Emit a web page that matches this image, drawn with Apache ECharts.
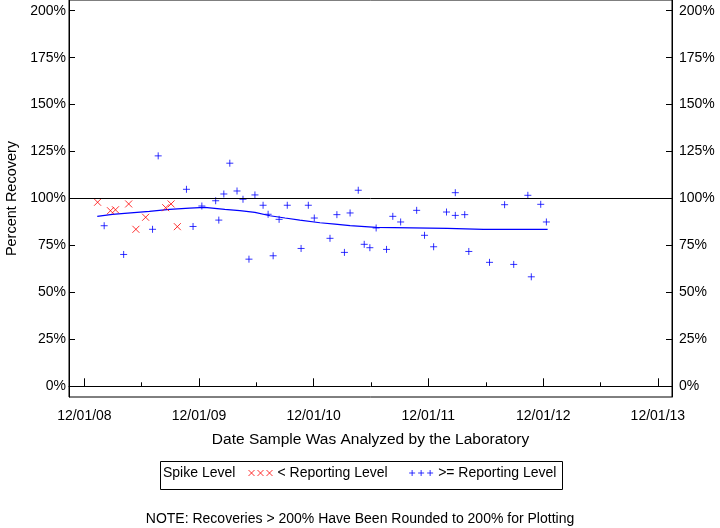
<!DOCTYPE html>
<html>
<head>
<meta charset="utf-8">
<script src="https://cdn.jsdelivr.net/npm/echarts@6/dist/echarts.min.js"></script>
<style>
  html, body { margin: 0; padding: 0; background: #fff; }
  #chart { width: 720px; height: 528px; }
</style>
</head>
<body>
<div id="chart"></div>
<script>
// ---- Data ----
const belowDates = ['2009-01-12','2009-02-22','2009-03-10','2009-04-21','2009-05-14','2009-06-14','2009-08-17','2009-09-03','2009-09-23'];
const belowValues = [98.0, 93.5, 94.0, 97.1, 83.6, 90.0, 95.1, 97.1, 85.0];

const aboveDates = ['2009-02-02','2009-04-05','2009-07-06','2009-07-24','2009-10-22','2009-11-12','2009-12-10',
  '2010-01-23','2010-02-02','2010-02-18','2010-03-09','2010-04-01','2010-04-20','2010-05-09','2010-05-28',
  '2010-06-23','2010-07-09','2010-07-25','2010-08-13','2010-09-08','2010-10-22','2010-11-14','2010-12-03',
  '2011-01-22','2011-02-13','2011-03-09','2011-03-27','2011-04-22','2011-05-11','2011-05-29','2011-06-18',
  '2011-07-21','2011-08-10','2011-09-04','2011-10-25','2011-11-19','2011-12-18','2012-01-28','2012-02-25',
  '2012-02-25','2012-03-26','2012-04-08','2012-06-13','2012-07-31','2012-08-29','2012-10-13','2012-10-24',
  '2012-11-23','2012-12-11'];
const aboveValues = [85.5, 70.2, 83.6, 122.7, 104.9, 85.1, 96.0,
  98.8, 88.5, 102.4, 118.8, 104.0, 99.6, 67.7, 101.9,
  96.4, 91.6, 69.5, 88.9, 96.4, 73.4, 96.4, 89.6,
  78.8, 91.4, 71.3, 92.3, 104.4, 75.6, 73.8, 84.3,
  72.9, 90.5, 87.5, 93.7, 80.4, 74.3, 92.8, 103.1,
  91.0, 91.4, 71.8, 66.0, 96.7, 64.9, 101.7, 58.3,
  96.9, 87.5];

const trendDates = ['2009-01-11','2009-02-28','2009-04-08','2009-06-26','2009-08-29','2009-11-01','2009-12-19',
  '2010-02-21','2010-04-10','2010-05-28','2010-07-15','2010-09-01','2010-10-18','2010-12-21','2011-02-07',
  '2011-03-27','2011-06-18','2012-01-31','2012-05-25','2012-12-15'];
const trendValues = [90.5, 91.5, 92.1, 93.1, 94.2, 94.9, 95.3,
  94.2, 93.5, 92.6, 90.8, 89.6, 88.5, 87.1, 86.4,
  85.6, 84.6, 84.1, 83.6, 83.6];

const xTickDates = ['2008-12-01','2009-12-01','2010-12-01','2011-12-01','2012-12-01','2013-12-01'];
const xTickLabels = ['12/01/08','12/01/09','12/01/10','12/01/11','12/01/12','12/01/13'];
const xMinorDates = ['2009-06-01','2010-06-01','2011-06-01','2012-06-01','2013-06-01'];
const yTicks = [0, 25, 50, 75, 100, 125, 150, 175, 200];
const referenceLevel = 100;

// ---- Build ----
const ts = d => Date.parse(d + 'T00:00:00Z');
const pairs = (ds, vs) => ds.map((d, i) => [ts(d), vs[i]]);
const xTickTs = xTickDates.map(ts);
const xMinorTs = xMinorDates.map(ts);
const xMin = ts('2008-10-13');
const xMax = ts('2014-01-15');
const FONT = "'Liberation Sans', Arial, sans-serif";

const chart = echarts.init(document.getElementById('chart'), null, { renderer: 'canvas' });

const yAxisCommon = {
  type: 'value', min: -5.7, max: 205.7,
  splitLine: { show: false },
  axisLine: { show: true, lineStyle: { color: '#000', width: 1 } },
  axisTick: { show: true, inside: true, length: 6, customValues: yTicks, lineStyle: { color: '#000' } },
};

chart.setOption({
  animation: false,
  backgroundColor: '#fff',
  textStyle: { fontFamily: FONT },
  grid: { left: 69, right: 48, top: 0, bottom: 131, containLabel: false, outerBoundsMode: 'none',
          show: true, borderColor: '#000', borderWidth: 1, backgroundColor: 'transparent' },
  xAxis: [
    {
      type: 'value', position: 'bottom', min: xMin, max: xMax,
      name: 'Date Sample Was Analyzed by the Laboratory', nameLocation: 'middle', nameGap: 35,
      nameTextStyle: { fontSize: 15.5, color: '#000', fontFamily: FONT },
      splitLine: { show: false },
      axisLine: { show: true, lineStyle: { color: '#000', width: 1 } },
      axisTick: { show: true, inside: true, length: 8, customValues: xTickTs, lineStyle: { color: '#000' } },
      axisLabel: {
        customValues: xTickTs, margin: 12, fontSize: 14, color: '#000', fontFamily: FONT,
        formatter: v => { const i = xTickTs.indexOf(v); return i >= 0 ? xTickLabels[i] : ''; }
      }
    },
    {
      type: 'value', position: 'bottom', min: xMin, max: xMax,
      splitLine: { show: false },
      axisLine: { show: false },
      axisTick: { show: true, inside: true, length: 4, customValues: xMinorTs, lineStyle: { color: '#000' } },
      axisLabel: { show: false }
    }
  ],
  yAxis: [
    Object.assign({}, yAxisCommon, {
      position: 'left',
      name: 'Percent Recovery', nameLocation: 'middle', nameGap: 44,
      nameTextStyle: { fontSize: 14.5, color: '#000', fontFamily: FONT },
      axisLabel: { customValues: yTicks, margin: 3, fontSize: 14, color: '#000', fontFamily: FONT, formatter: '{value}%' }
    }),
    Object.assign({}, yAxisCommon, {
      position: 'right',
      axisLabel: { customValues: yTicks, margin: 7, fontSize: 14, color: '#000', fontFamily: FONT, formatter: '{value}%' }
    })
  ],
  legend: {
    left: 248, top: 466, padding: 0, itemGap: 21, itemWidth: 24, itemHeight: 7,
    textStyle: { fontSize: 14, color: '#000', fontFamily: FONT },
    data: [
      { name: '< Reporting Level', icon: 'path://M0,0L6,6M6,0L0,6M9,0L15,6M15,0L9,6M18,0L24,6M24,0L18,6',
        itemStyle: { color: 'rgba(0,0,0,0)', borderColor: '#ff0000', borderWidth: 1 } },
      { name: '>= Reporting Level', icon: 'path://M3,0L3,6M0,3L6,3M12,0L12,6M9,3L15,3M21,0L21,6M18,3L24,3',
        itemStyle: { color: 'rgba(0,0,0,0)', borderColor: '#0000ff', borderWidth: 1 } }
    ]
  },
  series: [
    {
      name: 'Trend', type: 'line', xAxisIndex: 0, yAxisIndex: 0,
      data: pairs(trendDates, trendValues),
      showSymbol: false, symbol: 'none', smooth: false,
      lineStyle: { color: '#0000ff', width: 1.2 },
      z: 2,
      markLine: {
        silent: true, symbol: ['none', 'none'], label: { show: false },
        lineStyle: { color: '#000', width: 1, type: 'solid' },
        data: [{ yAxis: referenceLevel }]
      }
    },
    {
      name: '< Reporting Level', type: 'scatter', xAxisIndex: 0, yAxisIndex: 0,
      data: pairs(belowDates, belowValues),
      symbol: 'path://M0,0L10,10M10,0L0,10', symbolSize: 7,
      itemStyle: { color: 'rgba(0,0,0,0)', borderColor: '#ff0000', borderWidth: 1 },
      z: 3
    },
    {
      name: '>= Reporting Level', type: 'scatter', xAxisIndex: 0, yAxisIndex: 0,
      data: pairs(aboveDates, aboveValues),
      symbol: 'path://M5,0L5,10M0,5L10,5', symbolSize: 7,
      itemStyle: { color: 'rgba(0,0,0,0)', borderColor: '#0000ff', borderWidth: 1 },
      z: 3
    }
  ],
  graphic: [
    { type: 'rect', left: 158, top: 459, shape: { x: 0, y: 0, width: 402, height: 28 },
      style: { fill: 'none', stroke: '#000', lineWidth: 1 }, silent: true },
    { type: 'text', left: 163, top: 466, silent: true,
      style: { text: 'Spike Level', fontSize: 14, fill: '#000', fontFamily: FONT } },
    { type: 'text', left: 'center', top: 512, silent: true,
      style: { text: 'NOTE: Recoveries > 200% Have Been Rounded to 200% for Plotting', fontSize: 14, fill: '#000', fontFamily: FONT } }
  ]
});
</script>
</body>
</html>
